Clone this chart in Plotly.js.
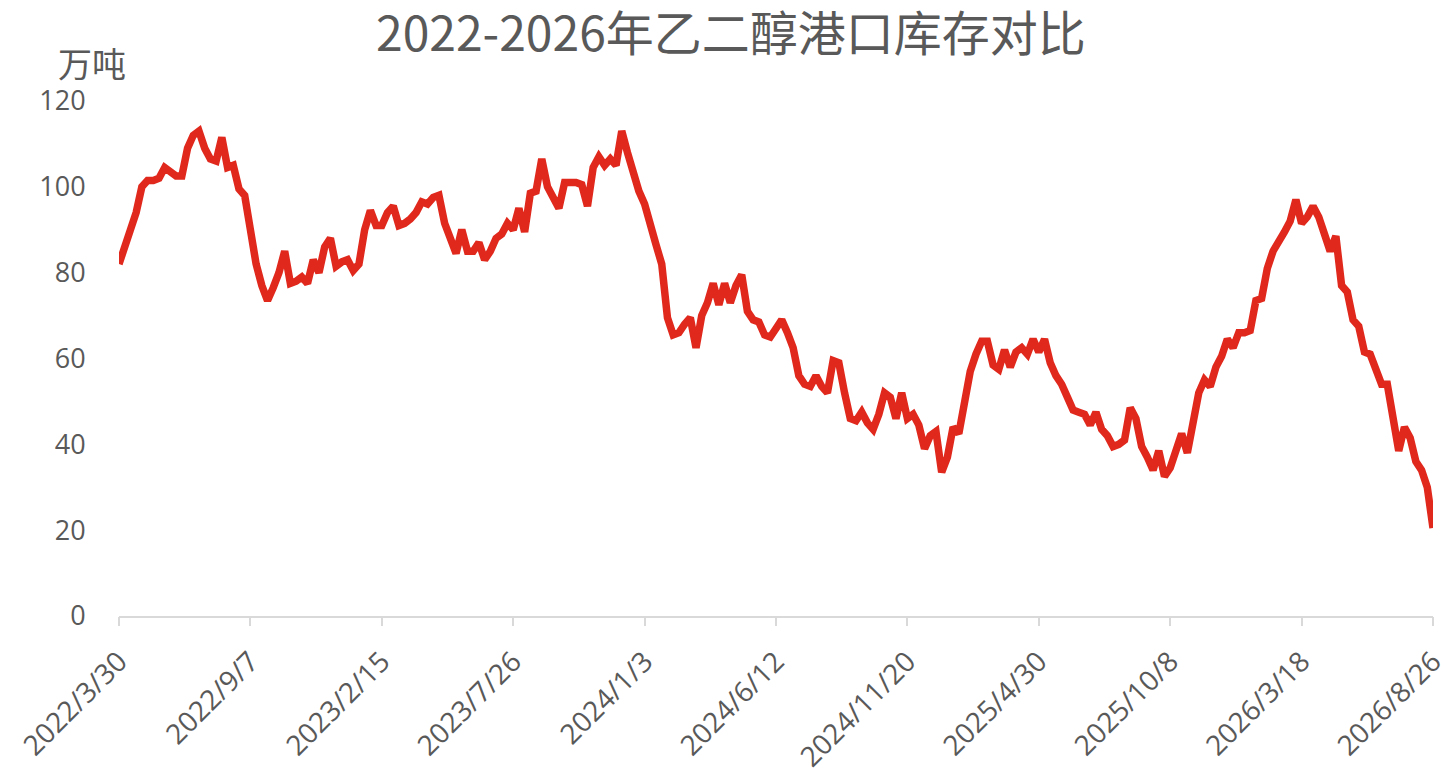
<!DOCTYPE html>
<html>
<head>
<meta charset="utf-8">
<script src="https://cdn.plot.ly/plotly-3.0.1.min.js"></script>
<style>html,body{margin:0;padding:0;background:#fff;}#chart{width:1456px;height:778px;}</style>
</head>
<body>
<div id="chart"></div>
<script>
// Weekly series start date and step (one point per week)
const startDate = '2022-03-30';
// Port inventory of ethylene glycol (万吨), weekly values
const inventory = [
  82, 86, 90, 94, 100, 101.5, 101.5, 102, 104.5, 103.5,
  102.5, 102.5, 109, 112, 113, 109, 106.5, 106, 111.5, 104.5,
  105, 99.5, 98, 90, 82, 77, 73.5, 76.5, 80, 85,
  77.5, 78, 79, 77.5, 83, 80, 86, 88, 81.5, 82.5,
  83, 80.5, 82, 90, 94.5, 91, 91, 94, 95.5, 91,
  91.5, 92.5, 94, 96.5, 96, 97.5, 98, 91.5, 87.5, 84.5,
  90, 85, 85, 87, 83, 85, 88, 89, 91.5, 90,
  95, 89.5, 98.5, 99, 106.5, 100, 97.5, 95, 101, 101,
  101, 100.5, 95.5, 104.5, 107, 105, 106.5, 105, 113, 108,
  103, 99, 96, 90.5, 86.5, 82, 69.5, 65.5, 66, 68,
  69.5, 62.5, 70, 73, 77.5, 72.5, 77.5, 73, 77, 79.5,
  71, 69, 68.5, 65.5, 65, 67, 69, 66, 62.5, 56,
  54, 53.5, 56, 53.5, 52, 59.5, 59, 52, 46, 45.5,
  47.5, 45, 43.5, 47, 52, 51, 46, 52, 46, 47,
  44.5, 39, 42, 43, 33.5, 37, 44, 42.5, 50, 57,
  61, 64, 64, 58.5, 57.5, 62, 58, 61.5, 62.5, 61,
  64.5, 61.5, 64.5, 59, 56, 54, 51, 48, 47.5, 47,
  44.5, 47.5, 43.5, 42, 39.5, 40, 41, 48.5, 46, 39.5,
  37, 34, 38.5, 32.5, 34.5, 38, 42.5, 38, 44, 52,
  55, 53.5, 58, 60.5, 64.5, 62.5, 66, 66, 66.5, 73.5,
  74, 81, 85, 87, 89.5, 92, 97, 91.5, 93, 95.5,
  93, 89, 85, 88.5, 77, 75.5, 69, 67.5, 61.5, 61,
  58, 54, 54, 46, 38.5, 44, 41.5, 36, 34, 30,
  20.5
];
// Category tick dates and their labels
const tickDates = ['2022-03-30','2022-09-07','2023-02-15','2023-07-26','2024-01-03','2024-06-12','2024-11-20','2025-04-30','2025-10-08','2026-03-18','2026-08-26'];
const tickLabels = ['2022/3/30','2022/9/7','2023/2/15','2023/7/26','2024/1/3','2024/6/12','2024/11/20','2025/4/30','2025/10/8','2026/3/18','2026/8/26'];
const yTicks = [0, 20, 40, 60, 80, 100, 120];

const titleText = '2022-2026年乙二醇港口库存对比';
const unitText = '万吨';

function isoDate(d){
  const y = d.getUTCFullYear(), m = String(d.getUTCMonth()+1).padStart(2,'0'), dd = String(d.getUTCDate()).padStart(2,'0');
  return y + '-' + m + '-' + dd;
}
const dates = [];
const s = new Date(startDate + 'T00:00:00Z');
for (let i = 0; i < inventory.length; i++) {
  const d = new Date(s.getTime() + i * 7 * 86400000);
  dates.push(isoDate(d));
}

const FONT = '"Open Sans", "Noto Sans CJK SC", sans-serif';
const GREY = '#595959';
const AXIS = '#d9d9d9';

const trace = {
  x: dates, y: inventory, type: 'scatter', mode: 'lines',
  line: {color: '#e0281d', width: 7.5, shape: 'linear'},
  hoverinfo: 'x+y'
};
// invisible companion trace that carries the tick-mark axis
const tickTrace = {
  x: dates, y: inventory, type: 'scatter', mode: 'lines', xaxis: 'x2',
  line: {color: 'rgba(0,0,0,0)', width: 0}, hoverinfo: 'skip', showlegend: false
};

const xRange = [dates[0], dates[dates.length-1]];

const layout = {
  width: 1456, height: 778,
  paper_bgcolor: '#ffffff', plot_bgcolor: '#ffffff',
  margin: {l: 119, r: 23, t: 101, b: 162},
  showlegend: false,
  font: {family: FONT, color: GREY},
  title: {text: titleText, x: 0.502, xanchor: 'center', xref: 'container',
          yref: 'container', y: 0.956, yanchor: 'middle',
          font: {family: '"Noto Sans CJK SC", sans-serif', size: 48, color: GREY}},
  xaxis: {
    type: 'date', range: xRange,
    tickvals: tickDates, ticktext: tickLabels, tickangle: -45,
    showgrid: false, zeroline: false, showline: true, linecolor: AXIS, linewidth: 2,
    ticks: 'outside', ticklen: 16, tickwidth: 2, tickcolor: 'rgba(0,0,0,0)',
    tickfont: {family: FONT, size: 28, color: GREY}
  },
  xaxis2: {
    type: 'date', range: xRange, overlaying: 'x', anchor: 'y', side: 'bottom',
    tickvals: tickDates, showticklabels: false,
    showgrid: false, zeroline: false, showline: false,
    ticks: 'outside', ticklen: 9, tickwidth: 2, tickcolor: AXIS
  },
  yaxis: {
    range: [0, 120], tickvals: yTicks, ticktext: yTicks.map(String),
    showgrid: false, zeroline: false, showline: false,
    ticks: 'outside', ticklen: 27, tickcolor: 'rgba(0,0,0,0)',
    tickfont: {family: FONT, size: 27, color: GREY}
  },
  annotations: [{
    text: unitText, xref: 'paper', yref: 'paper', x: -0.0205, y: 1.074,
    xanchor: 'center', yanchor: 'middle', showarrow: false,
    font: {family: '"Noto Sans CJK SC", sans-serif', size: 34, color: GREY}
  }]
};

Plotly.newPlot('chart', [tickTrace, trace], layout, {displayModeBar: false, staticPlot: true});
</script>
</body>
</html>
